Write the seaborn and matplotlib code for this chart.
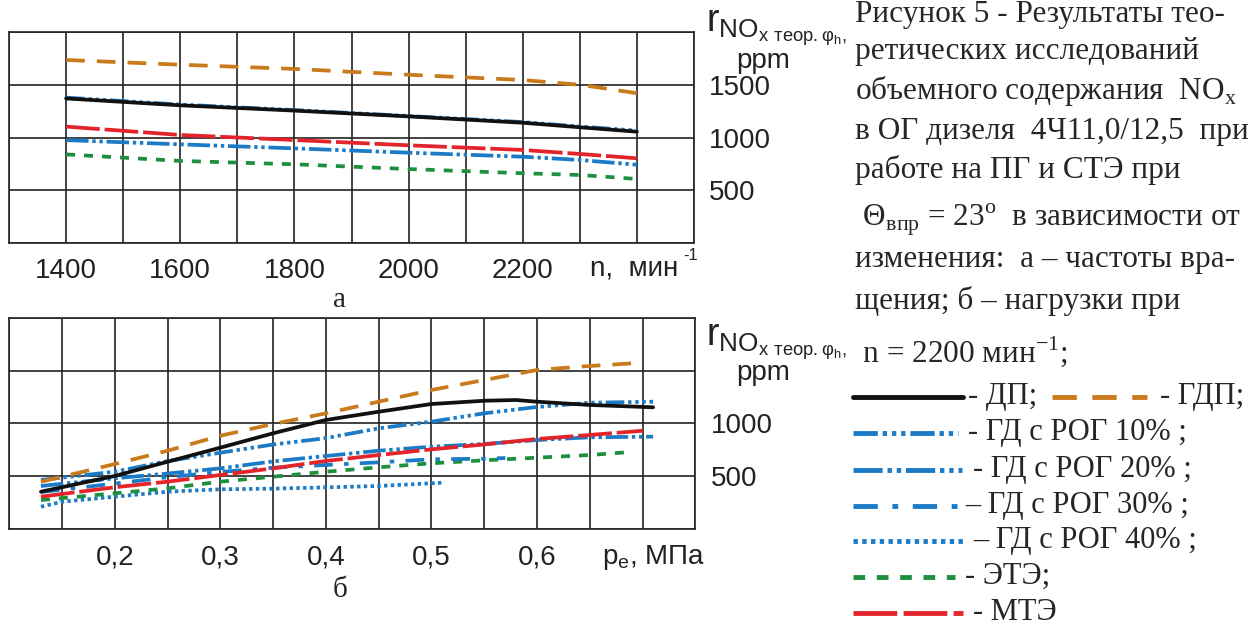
import numpy as np
import pandas as pd
import seaborn as sns
import matplotlib
matplotlib.use("Agg")
import matplotlib.pyplot as plt
from matplotlib.lines import Line2D

# ---- (а) NOx vs engine speed ----
n_rpm = [1400, 1600, 1800, 2000, 2200, 2300, 2400]
a_dp = [1370, 1305, 1255, 1200, 1140, 1097, 1055]
a_gdp = [1735, 1690, 1650, 1595, 1545, 1500, 1420]
a_rog10 = [1378, 1312, 1260, 1204, 1146, 1104, 1065]
a_rog20 = [975, 935, 897, 856, 818, 787, 742]
a_ete = [840, 778, 746, 701, 661, 645, 607]
a_mte = [1103, 1024, 976, 926, 882, 844, 803]

# ---- (б) NOx vs mean effective pressure ----
pe_main = [0.13, 0.2, 0.25, 0.3, 0.35, 0.4, 0.45, 0.5, 0.55, 0.6, 0.65, 0.7]
b_gdp = [447, 615, 741, 883, 994, 1095, 1205, 1316, 1410, 1505, 1543, 1574]
b_mte = [306, 395, 448, 511, 574, 644, 700, 754, 800, 852, 890, 930]
pe_dp = [0.13, 0.2, 0.25, 0.3, 0.35, 0.4, 0.45, 0.5, 0.55, 0.58, 0.6, 0.65, 0.71]
b_dp = [353, 502, 637, 770, 906, 1032, 1110, 1183, 1214, 1221, 1205, 1174, 1152]
pe_rog = [0.13, 0.2, 0.25, 0.3, 0.35, 0.4, 0.45, 0.5, 0.55, 0.6, 0.65, 0.71]
b_rog10 = [464, 542, 643, 722, 800, 860, 953, 1016, 1095, 1155, 1195, 1205]
b_rog20 = [407, 480, 525, 574, 640, 691, 741, 779, 805, 842, 868, 874]
pe_rog30 = [0.13, 0.2, 0.25, 0.3, 0.35, 0.4, 0.45, 0.5, 0.55, 0.57]
b_rog30 = [350, 430, 490, 540, 580, 606, 631, 660, 665, 672]
pe_rog40 = [0.13, 0.15, 0.2, 0.25, 0.3, 0.35, 0.4, 0.45, 0.51]
b_rog40 = [211, 258, 306, 353, 376, 382, 394, 407, 438]
pe_ete = [0.13, 0.2, 0.25, 0.3, 0.35, 0.4, 0.45, 0.5, 0.55, 0.6, 0.65, 0.685]
b_ete = [274, 338, 385, 448, 495, 542, 584, 622, 650, 675, 700, 726]

colors = {
    "ДП": "#111111",
    "ГДП": "#C97A1C",
    "ГД с РОГ 10%": "#1C7BC6",
    "ГД с РОГ 20%": "#1C7BC6",
    "ГД с РОГ 30%": "#1C7BC6",
    "ГД с РОГ 40%": "#1C7BC6",
    "ЭТЭ": "#1E8F3E",
    "МТЭ": "#E3242B",
}
dashes = {
    "ДП": None,
    "ГДП": (5.0, 3.2),
    "ГД с РОГ 10%": (5, 1.0, 0.9, 1.0, 0.9, 1.0, 0.9, 1.0),
    "ГД с РОГ 20%": (6, 1.0, 0.9, 1.0, 0.9, 1.0),
    "ГД с РОГ 30%": (5, 3, 1.2, 3),
    "ГД с РОГ 40%": (0.9, 0.9),
    "ЭТЭ": (2.4, 2.4),
    "МТЭ": (9, 1.3),
}
LW = 2.7
LW_KEY = 3.5

W, H = 1256, 625
fig = plt.figure(figsize=(W / 100, H / 100), dpi=100)
sns.set_style("white")
SANS = ["Liberation Sans", "DejaVu Sans"]
SERIF = ["Liberation Serif", "DejaVu Serif"]
plt.rcParams["font.family"] = SANS
plt.rcParams["mathtext.fontset"] = "custom"
plt.rcParams["mathtext.rm"] = "Liberation Serif"


def fx(px):
    return px / W


def fy(py):
    return 1 - py / H


def draw(ax, x, y, name):
    d = pd.DataFrame({"x": x, "y": y})
    ls = "-" if dashes[name] is None else (0, dashes[name])
    sns.lineplot(data=d, x="x", y="y", ax=ax, color=colors[name], lw=LW,
                 linestyle=ls, sort=False, estimator=None)


GRID = "#222222"
TXT = "#222222"


def style_axes(ax, xlim, xgrid, xlabels, ylabels):
    ax.set_xlim(*xlim)
    ax.set_ylim(0, 2000)
    ax.set_xticks(xgrid)
    ax.set_xticklabels(xlabels)
    ax.set_yticks([0, 500, 1000, 1500, 2000])
    ax.set_yticklabels(ylabels)
    ax.yaxis.tick_right()
    ax.grid(True, color=GRID, lw=1.2)
    ax.set_axisbelow(True)
    for s in ax.spines.values():
        s.set_color(GRID)
        s.set_linewidth(1.2)
    ax.tick_params(axis="both", length=0, labelsize=20, colors=TXT)
    ax.tick_params(axis="x", pad=11)
    ax.tick_params(axis="y", pad=11)
    ax.set_xlabel("")
    ax.set_ylabel("")


# top panel
ax1 = fig.add_axes([fx(9), fy(243), 685 / W, 211 / H])
for name, vals in [("ГД с РОГ 10%", a_rog10), ("ДП", a_dp), ("ГДП", a_gdp),
                   ("МТЭ", a_mte), ("ГД с РОГ 20%", a_rog20), ("ЭТЭ", a_ete)]:
    draw(ax1, n_rpm, vals, name)
xg1 = list(range(1300, 2501, 100))
xl1 = [str(v) if v in (1400, 1600, 1800, 2000, 2200) else "" for v in xg1]
style_axes(ax1, (1300, 2500), xg1, xl1, ["", "500", "1000", "1500", ""])

# bottom panel
ax2 = fig.add_axes([fx(9.3), fy(529), 686 / W, 211.3 / H])
draw(ax2, pe_rog40, b_rog40, "ГД с РОГ 40%")
draw(ax2, pe_ete, b_ete, "ЭТЭ")
draw(ax2, pe_rog30, b_rog30, "ГД с РОГ 30%")
draw(ax2, pe_rog, b_rog20, "ГД с РОГ 20%")
draw(ax2, pe_main, b_mte, "МТЭ")
draw(ax2, pe_rog, b_rog10, "ГД с РОГ 10%")
draw(ax2, pe_dp, b_dp, "ДП")
draw(ax2, pe_main, b_gdp, "ГДП")
xg2 = [round(0.1 + 0.05 * i, 2) for i in range(14)]
xl2 = [("%.1f" % v).replace(".", ",") if abs(v * 10 - round(v * 10)) < 1e-6 and 0.15 < v < 0.65 else ""
       for v in xg2]
style_axes(ax2, (0.1, 0.75), xg2, xl2, ["", "500", "1000", "", ""])

# axis unit labels
fig.text(fx(590), fy(268), "n,  мин", fontsize=20, color=TXT,
         va="center", ha="left", family=SANS)
fig.text(fx(683), fy(256), "-1", fontsize=12, color=TXT,
         va="center", ha="left", family=SANS)
fig.text(fx(602), fy(557), r"p$_{\mathregular{e}}$, МПа", fontsize=20, color=TXT,
         va="center", ha="left", family=SANS)

ylabel = r"r$_{\mathregular{NO}_{\mathregular{x\ теор.φ}_{\mathregular{h}}\mathregular{,}}}$"
for base_r, ppm_y in [(31, 61), (345, 373)]:
    fig.text(fx(706), fy(base_r), ylabel, fontsize=27, color=TXT,
             va="baseline", ha="left", family=SANS)
    fig.text(fx(763), fy(ppm_y), "ppm", fontsize=20, color=TXT,
             va="center", ha="center", family=SANS)

# panel letters
fig.text(fx(340), fy(300), "а", fontsize=21, family=SERIF, ha="center", va="center")
fig.text(fx(340), fy(590), "б", fontsize=21, family=SERIF, ha="center", va="center")

# caption
TX = 855
FS = 22.5
caption = [
    (22, "Рисунок 5 - Результаты тео-"),
    (59, "ретических исследований"),
    (99, r"объемного содержания  NO$_{\mathregular{x}}$"),
    (139, "в ОГ дизеля  4Ч11,0/12,5  при"),
    (178, "работе на ПГ и СТЭ при"),
    (226, r" Θ$_{\mathregular{впр}}$ = 23$^{\mathregular{o}}$  в зависимости от"),
    (267, "изменения:  а – частоты вра-"),
    (309, "щения; б – нагрузки при"),
    (362, r" n = 2200 мин$^{\mathregular{-1}}$;"),
]
for base, txt in caption:
    fig.text(fx(TX), fy(base), txt, fontsize=FS, family=SERIF, va="baseline", ha="left")

# legend key
FS_KEY = 22
legend_rows = [
    (397, [("ДП", 853, 963, 968, "- ДП;"), ("ГДП", 1052, 1147, 1160, "- ГДП;")]),
    (433, [("ГД с РОГ 10%", 853, 958, 968, "- ГД с РОГ 10% ;")]),
    (470, [("ГД с РОГ 20%", 853, 962, 973, "- ГД с РОГ 20% ;")]),
    (506, [("ГД с РОГ 30%", 853, 957, 965, "– ГД с РОГ 30% ;")]),
    (541, [("ГД с РОГ 40%", 853, 965, 973, "– ГД с РОГ 40% ;")]),
    (577, [("ЭТЭ", 853, 955, 965, "- ЭТЭ;")]),
    (613, [("МТЭ", 853, 963, 973, "- МТЭ")]),
]
for yc, items in legend_rows:
    for name, x0, x1, xt, label in items:
        ls = "-" if dashes[name] is None else (0, dashes[name])
        fig.add_artist(Line2D([fx(x0), fx(x1)], [fy(yc), fy(yc)], color=colors[name],
                              lw=LW_KEY, linestyle=ls, transform=fig.transFigure))
        fig.text(fx(xt), fy(yc + 7), label, fontsize=FS_KEY, family=SERIF,
                 va="baseline", ha="left")

fig.savefig("out.png", dpi=100)
